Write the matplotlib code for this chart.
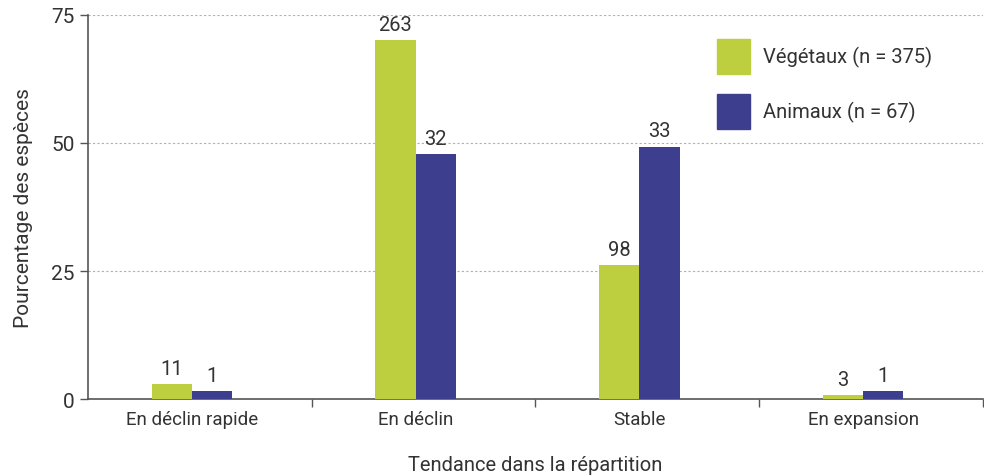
import numpy as np
import matplotlib.pyplot as plt
from matplotlib.patches import Patch

# data
categories = ['En déclin rapide', 'En déclin', 'Stable', 'En expansion']
veg_pct = [2.9, 70.1, 26.1, 0.8]
ani_pct = [1.5, 47.8, 49.3, 1.5]
veg_n = [11, 263, 98, 3]
ani_n = [1, 32, 33, 1]
legend_labels = ['Végétaux (n = 375)', 'Animaux (n = 67)']

green = '#BDCF3F'
blue = '#3E3E8E'
text_col = '#333333'

plt.rcParams['font.family'] = ['Roboto', 'DejaVu Sans']

fig = plt.figure(figsize=(9.84, 4.77), dpi=100)
ax = fig.add_axes([0.0894, 0.1614, 0.9096, 0.8051])

# groups sit a little left of the centre of each tick interval
x = np.arange(len(categories)) - 0.036
w = 0.18
b1 = ax.bar(x - w / 2, veg_pct, w, color=green, zorder=3)
b2 = ax.bar(x + w / 2, ani_pct, w, color=blue, zorder=3)

for bars, counts in ((b1, veg_n), (b2, ani_n)):
    for rect, n in zip(bars, counts):
        ax.text(rect.get_x() + rect.get_width() / 2, rect.get_height() + 1.2, str(n),
                ha='center', va='bottom', fontsize=14.5, color=text_col)

ax.set_xlim(-0.5, 3.5)
ax.set_ylim(0, 75)
ax.set_yticks([0, 25, 50, 75])
ax.yaxis.grid(True, linestyle=(0, (2, 2)), color='#b0b0b0', linewidth=0.8, zorder=0)

ax.set_xticks([0.5, 1.5, 2.5, 3.5])
ax.set_xticklabels([])
ax.set_xticks(x, minor=True)
ax.set_xticklabels(categories, minor=True)
ax.tick_params(axis='x', which='minor', length=0, pad=8, labelsize=13.5, labelcolor=text_col)
ax.tick_params(axis='x', which='major', length=6, width=1, color='#555555')
ax.tick_params(axis='y', length=6, width=1, color='#555555', labelsize=15, labelcolor=text_col)

for s in ('top', 'right'):
    ax.spines[s].set_visible(False)
for s in ('left', 'bottom'):
    ax.spines[s].set_color('#555555')
    ax.spines[s].set_linewidth(1.2)

ax.set_xlabel('Tendance dans la répartition', fontsize=14.5, color=text_col, labelpad=19)
ax.set_ylabel('Pourcentage des espèces', fontsize=15, color=text_col, labelpad=13)

handles = [Patch(color=green), Patch(color=blue)]
ax.legend(handles, legend_labels, loc='upper left', bbox_to_anchor=(0.687, 0.975),
          frameon=False, fontsize=14.5, handlelength=1.65, handleheight=2.3,
          labelspacing=1.0, handletextpad=0.65, borderpad=0.2)
for t in ax.get_legend().get_texts():
    t.set_color(text_col)

fig.savefig('out.png', dpi=100)
